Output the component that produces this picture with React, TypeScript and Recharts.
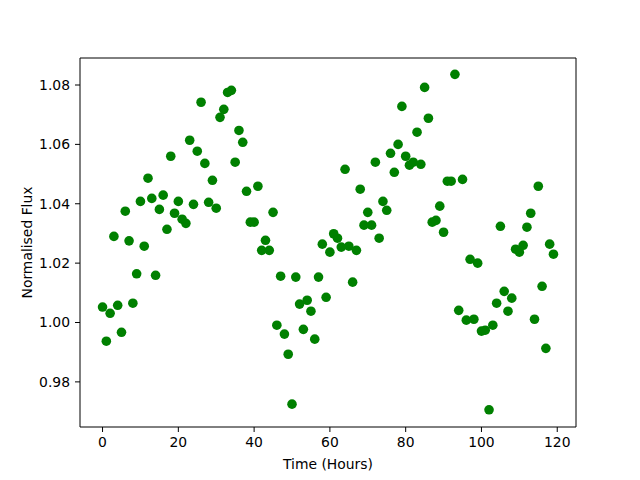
import React from 'react';
import { ScatterChart, Scatter, XAxis, YAxis, Label } from 'recharts';

const hours: number[] = Array.from({ length: 120 }, (_, i) => i);

const flux: number[] = [
  1.0052, 0.9937, 1.0031, 1.029, 1.0058, 0.9967, 1.0375, 1.0275, 1.0065, 1.0164,
  1.0408, 1.0257, 1.0486, 1.0418, 1.0159, 1.0381, 1.0429, 1.0314, 1.056, 1.0368,
  1.0408, 1.0348, 1.0334, 1.0614, 1.0398, 1.0577, 1.0742, 1.0536, 1.0405, 1.0479,
  1.0385, 1.0691, 1.0718, 1.0775, 1.0782, 1.054, 1.0647, 1.0607, 1.0442, 1.0338,
  1.0338, 1.0459, 1.0243, 1.0277, 1.0243, 1.0371, 0.9991, 1.0156, 0.9961, 0.9893,
  0.9725, 1.0153, 1.0062, 0.9977, 1.0075, 1.0038, 0.9944, 1.0153, 1.0264, 1.0085,
  1.0237, 1.0299, 1.0284, 1.0254, 1.0516, 1.0257, 1.0136, 1.0243, 1.0449, 1.0328,
  1.0371, 1.0328, 1.054, 1.0284, 1.0408, 1.0378, 1.057, 1.0506, 1.06, 1.0728,
  1.056, 1.053, 1.054, 1.0641, 1.0533, 1.0792, 1.0688, 1.0338, 1.0344, 1.0392,
  1.0304, 1.0476, 1.0476, 1.0836, 1.0041, 1.0482, 1.0008, 1.0213, 1.0011, 1.02,
  0.9971, 0.9974, 0.9706, 0.9991, 1.0065, 1.0324, 1.0105, 1.0038, 1.0082, 1.0247,
  1.0237, 1.026, 1.0321, 1.0368, 1.0011, 1.0459, 1.0122, 0.9913, 1.0264, 1.023,
];

const xTicks: number[] = [0, 20, 40, 60, 80, 100, 120];
const yTicks: number[] = [0.98, 1.0, 1.02, 1.04, 1.06, 1.08];

const data = hours.map((h, i) => ({ h, f: flux[i] }));

const FONT = 'DejaVu Sans';
const tickStyle = { fontFamily: FONT, fontSize: 13.9, fill: '#000' };

const Dot = (props: any) => (
  <circle cx={props.cx} cy={props.cy} r={4.8} fill="#008000" />
);

export default function App() {
  return (
    <div style={{ position: 'absolute', left: 0, top: 0, width: 640, height: 480, background: '#fff' }}>
      <ScatterChart
        width={640}
        height={480}
        margin={{ top: 48, right: 54, left: 20, bottom: 8 }}
      >
        <XAxis
          xAxisId="b"
          dataKey="h"
          type="number"
          domain={[-5.95, 124.95]}
          ticks={xTicks}
          allowDataOverflow
          height={45}
          tickSize={5}
          tickMargin={5}
          stroke="#000"
          tick={tickStyle}
          tickLine={{ stroke: '#000' }}
          axisLine={{ stroke: '#000' }}
        >
          <Label
            value="Time (Hours)"
            position="insideBottom"
            offset={3}
            style={{ fontFamily: FONT, fontSize: 13.9, fill: '#000' }}
          />
        </XAxis>
        <XAxis
          xAxisId="t"
          dataKey="h"
          type="number"
          orientation="top"
          domain={[-5.95, 124.95]}
          allowDataOverflow
          height={10}
          tick={false}
          tickLine={false}
          stroke="#000"
          axisLine={{ stroke: '#000' }}
        />
        <YAxis
          yAxisId="l"
          dataKey="f"
          type="number"
          domain={[0.9648, 1.0891]}
          ticks={yTicks}
          allowDataOverflow
          width={60}
          tickSize={5}
          tickMargin={5}
          tickFormatter={(v: number) => v.toFixed(2)}
          stroke="#000"
          tick={tickStyle}
          tickLine={{ stroke: '#000' }}
          axisLine={{ stroke: '#000' }}
        >
          <Label
            value="Normalised Flux"
            angle={-90}
            position="insideLeft"
            offset={7}
            style={{ fontFamily: FONT, fontSize: 13.9, fill: '#000', textAnchor: 'middle' }}
          />
        </YAxis>
        <YAxis
          yAxisId="r"
          dataKey="f"
          type="number"
          orientation="right"
          domain={[0.9648, 1.0891]}
          allowDataOverflow
          width={10}
          tick={false}
          tickLine={false}
          stroke="#000"
          axisLine={{ stroke: '#000' }}
        />
        <Scatter
          data={data}
          xAxisId="b"
          yAxisId="l"
          fill="#008000"
          shape={Dot}
          isAnimationActive={false}
        />
        <Scatter
          data={[]}
          xAxisId="t"
          yAxisId="r"
          isAnimationActive={false}
        />
      </ScatterChart>
    </div>
  );
}
